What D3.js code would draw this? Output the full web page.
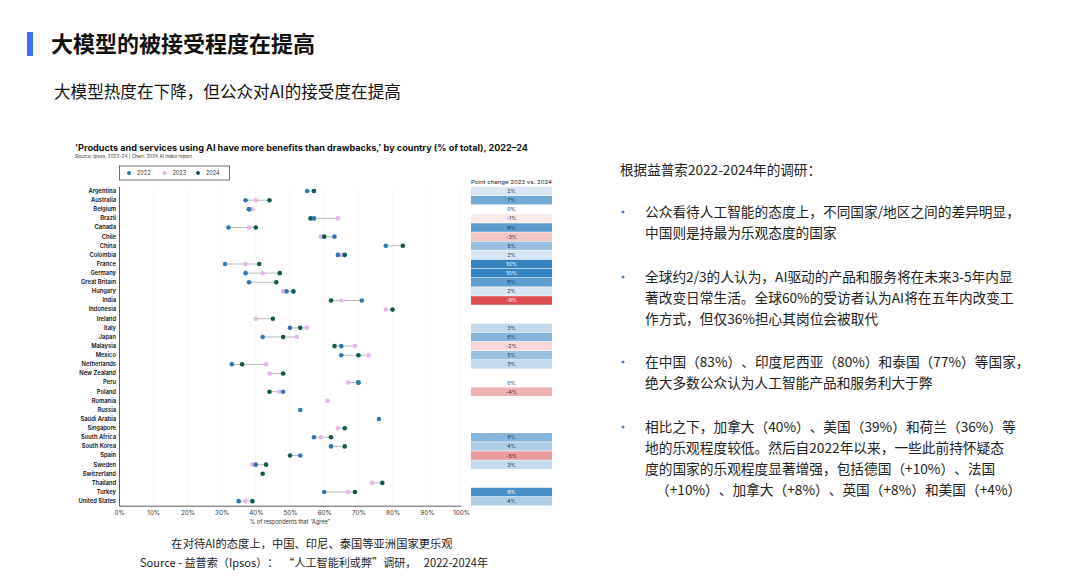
<!DOCTYPE html>
<html>
<head>
<meta charset="utf-8">
<script src="https://cdn.jsdelivr.net/npm/d3@7"></script>
<style>
  body { margin: 0; background: #fff; }
  svg text { font-family: "Noto Sans CJK SC", "Noto Sans", sans-serif; text-spacing-trim: space-all; }
  .chart text { font-family: Inter, "Liberation Sans", sans-serif; }
</style>
</head>
<body>
<div id="slide"></div>
<script>
// countries, top to bottom
var countries = ["Argentina", "Australia", "Belgium", "Brazil", "Canada", "Chile", "China", "Colombia",
  "France", "Germany", "Great Britain", "Hungary", "India", "Indonesia", "Ireland", "Italy", "Japan",
  "Malaysia", "Mexico", "Netherlands", "New Zealand", "Peru", "Poland", "Romania", "Russia",
  "Saudi Arabia", "Singapore", "South Africa", "South Korea", "Spain", "Sweden", "Switzerland",
  "Thailand", "Turkey", "United States"];

// % agree (null = no dot)
var v2022 = [55, 37, 38, 57, 32, 63, 78, 64, 31, 37, 38, 49, 71, null, null, 50, 42,
  65, 65, 33, null, 70, 48, null, 53, 76, null, 57, 62, 53, 40, null, null, 60, 35];
var v2023 = [null, 40, 39, 64, 38, 59, null, 65, 37, 42, null, 48, 65, 78, 40, 55, 52,
  69, 73, 43, 44, 67, 47, 61, null, null, 64, 59, null, null, 39, null, 74, 67, 37];
var v2024 = [57, 44, 38, 56, 40, 60, 83, 66, 41, 47, 46, 51, 62, 80, 45, 53, 48,
  63, 70, 36, 48, 70, 44, null, null, null, 66, 62, 66, 50, 43, 42, 77, 69, 39];

// point change 2022 vs 2024 column
var change = [2, 7, 0, -1, 8, -3, 5, 2, 10, 10, 8, 2, -9, null, null, 3, 6,
  -2, 5, 3, null, 0, -4, null, null, null, null, 6, 4, -5, 3, null, null, 9, 4];

var years = ["2022", "2023", "2024"];
var xTicks = [0, 10, 20, 30, 40, 50, 60, 70, 80, 90, 100];

var bullets = [
  ["公众看待人工智能的态度上，不同国家/地区之间的差异明显，", "中国则是持最为乐观态度的国家"],
  ["全球约2/3的人认为，AI驱动的产品和服务将在未来3-5年内显", "著改变日常生活。全球60%的受访者认为AI将在五年内改变工", "作方式，但仅36%担心其岗位会被取代"],
  ["在中国（83%）、印度尼西亚（80%）和泰国（77%）等国家，", "绝大多数公众认为人工智能产品和服务利大于弊"],
  ["相比之下，加拿大（40%）、美国（39%）和荷兰（36%）等", "地的乐观程度较低。然后自2022年以来，一些此前持怀疑态", "度的国家的乐观程度显著增强，包括德国（+10%）、法国", "（+10%）、加拿大（+8%）、英国（+8%）和美国（+4%）"]
];

var svgWidth = 1069;
var svgHeight = 586;

var svg = d3.select("#slide")
  .append("svg")
  .attr("width", svgWidth)
  .attr("height", svgHeight);

svg.append("rect").attr("width", svgWidth).attr("height", svgHeight).attr("fill", "#fff");

// page header
svg.append("rect").attr("x", 27).attr("y", 32).attr("width", 6).attr("height", 24).attr("fill", "#3f6ff5");
svg.append("text").attr("x", 51).attr("y", 51.5)
  .attr("font-size", 22).attr("font-weight", 700).attr("fill", "#111")
  .text("大模型的被接受程度在提高");
svg.append("text").attr("x", 54).attr("y", 98)
  .attr("font-size", 16.6).attr("fill", "#111")
  .text("大模型热度在下降，但公众对AI的接受度在提高");

// ---------- chart ----------
var chart = svg.append("g").attr("class", "chart");

var x = d3.scaleLinear().domain([0, 100]).range([119, 461]);
var y = d3.scaleBand().domain(countries).range([186.5, 505.7]);
var colorYear = d3.scaleOrdinal().domain(years).range(["#2f79b2", "#e5b7ec", "#0d5a4f"]);
var heat = d3.scaleLinear().domain([-10, 0, 10]).range(["#d8393b", "#ffffff", "#3584c0"]);

chart.append("text").attr("x", 75).attr("y", 150.5)
  .attr("font-size", 8.6).attr("font-weight", 700).attr("fill", "#111")
  .attr("textLength", 453).attr("lengthAdjust", "spacingAndGlyphs")
  .text("'Products and services using AI have more benefits than drawbacks,' by country (% of total), 2022–24");
chart.append("text").attr("x", 75).attr("y", 157.5)
  .attr("font-size", 4.6).attr("fill", "#333")
  .attr("textLength", 117).attr("lengthAdjust", "spacingAndGlyphs")
  .text("Source: Ipsos, 2022–24 | Chart: 2024 AI Index report");

// legend
var legend = chart.append("g");
legend.append("rect").attr("x", 119.5).attr("y", 166).attr("width", 110).attr("height", 14)
  .attr("fill", "none").attr("stroke", "#333").attr("stroke-width", 0.7);
var legendX = [129, 164.5, 198];
years.forEach(function(yr, i) {
  legend.append("circle").attr("cx", legendX[i]).attr("cy", 173).attr("r", 2).attr("fill", colorYear(yr));
  legend.append("text").attr("x", legendX[i] + 8).attr("y", 175).attr("font-size", 5.5).attr("fill", "#333").text(yr);
});

// faint gridlines
chart.append("g").selectAll("line").data(xTicks.slice(1)).enter().append("line")
  .attr("x1", d => x(d)).attr("x2", d => x(d)).attr("y1", 187).attr("y2", 505)
  .attr("stroke", "#f3f3f3").attr("stroke-width", 0.6);

// axes
var bottomAxis = d3.axisBottom(x).tickValues(xTicks).tickSize(0).tickPadding(5).tickFormat(d => d + "%");
var xAxis = chart.append("g").attr("transform", "translate(0, 505.7)").call(bottomAxis);
xAxis.select(".domain").attr("stroke", "#333").attr("stroke-width", 0.8);
xAxis.selectAll("text").attr("font-size", 6.3).attr("fill", "#333").attr("font-family", "Inter, sans-serif");

var leftAxis = d3.axisLeft(y).tickSize(0).tickPadding(3);
var yAxis = chart.append("g").attr("transform", "translate(119, 0)").call(leftAxis);
yAxis.select(".domain").attr("stroke", "#333").attr("stroke-width", 0.8);
yAxis.selectAll("text").attr("font-size", 5.8).attr("font-weight", 600).attr("fill", "#111").attr("font-family", "Inter, sans-serif");

chart.append("text").attr("x", 290).attr("y", 523.5).attr("text-anchor", "middle")
  .attr("font-size", 5.6).attr("fill", "#333")
  .text("% of respondents that \u201cAgree\u201d");

// rows
var rows = countries.map(function(c, i) {
  return { country: c, v: { "2022": v2022[i], "2023": v2023[i], "2024": v2024[i] }, change: change[i] };
});

var rowGroup = chart.selectAll(".row").data(rows).enter().append("g")
  .attr("transform", d => `translate(0, ${y(d.country) + y.bandwidth() / 2})`);

rowGroup.append("line")
  .attr("x1", d => x(d3.min(years, yr => d.v[yr])))
  .attr("x2", d => x(d3.max(years, yr => d.v[yr])))
  .attr("stroke", "#b4b4b4").attr("stroke-width", 0.9);

["2023", "2024", "2022"].forEach(function(yr) {
  rowGroup.filter(d => d.v[yr] != null).append("circle")
    .attr("cx", d => x(d.v[yr]))
    .attr("r", 2.3)
    .attr("fill", colorYear(yr));
});

// point change column
chart.append("text").attr("x", 471).attr("y", 183.5)
  .attr("font-size", 5.3).attr("fill", "#222")
  .attr("textLength", 81).attr("lengthAdjust", "spacingAndGlyphs")
  .text("Point change 2022 vs. 2024");

var cells = chart.selectAll(".cell").data(rows.filter(d => d.change != null)).enter().append("g")
  .attr("transform", d => `translate(0, ${y(d.country)})`);

cells.append("rect")
  .attr("x", 471).attr("width", 81)
  .attr("y", 0.3).attr("height", y.bandwidth() - 0.6)
  .attr("fill", d => heat(d.change));

cells.append("text")
  .attr("x", 511.5).attr("y", y.bandwidth() / 2 + 2)
  .attr("text-anchor", "middle").attr("font-size", 5.4)
  .attr("fill", d => Math.abs(d.change) >= 9 ? "#fff" : "#2b3a4a")
  .text(d => d.change + "%");

// caption under chart
svg.append("text").attr("x", 312).attr("y", 548).attr("text-anchor", "middle")
  .attr("font-size", 11.3).attr("fill", "#222")
  .text("在对待AI的态度上，中国、印尼、泰国等亚洲国家更乐观");
svg.append("text").attr("x", 314).attr("y", 566.5).attr("text-anchor", "middle")
  .attr("font-size", 11.1).attr("fill", "#222").attr("xml:space", "preserve")
  .text("Source - 益普索（Ipsos）：  \u201c人工智能利或弊\u201d调研，   2022-2024年");

// ---------- right side notes ----------
svg.append("text").attr("x", 620).attr("y", 175)
  .attr("font-size", 13.6).attr("fill", "#222")
  .text("根据益普索2022-2024年的调研：");

var blockTop = [212, 277, 362, 427];
bullets.forEach(function(lines, b) {
  svg.append("circle").attr("cx", 623).attr("cy", blockTop[b]).attr("r", 1.5).attr("fill", "#5a7fb8");
  lines.forEach(function(line, j) {
    var indent = (b === 3 && j === 3) ? 656 : 645;
    svg.append("text").attr("x", indent).attr("y", blockTop[b] + j * 21 + 5)
      .attr("font-size", 13.7).attr("fill", "#222")
      .text(line);
  });
});
</script>
</body>
</html>
